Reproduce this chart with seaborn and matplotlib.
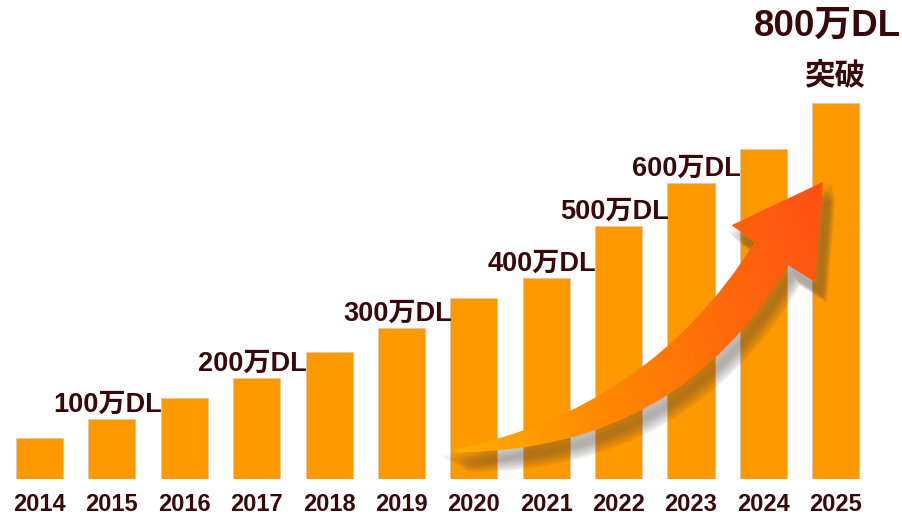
import numpy as np
import pandas as pd
import matplotlib
matplotlib.use("Agg")
import matplotlib.pyplot as plt
import seaborn as sns
from matplotlib.path import Path
from matplotlib.patches import PathPatch
from matplotlib.colors import LinearSegmentedColormap
import matplotlib.transforms as mtransforms

# ---- data ----
years = ["2014", "2015", "2016", "2017", "2018", "2019",
         "2020", "2021", "2022", "2023", "2024", "2025"]
downloads = [87, 128, 172, 215, 270, 321, 385, 428, 538, 630, 702, 800]
milestone_years = ["2015", "2017", "2019", "2021", "2022", "2023"]
milestone_labels = ["100万DL", "200万DL", "300万DL", "400万DL", "500万DL", "600万DL"]
final_label = "800万DL"
final_sub = "突破"

df = pd.DataFrame({"year": years, "dl": downloads})

sns.set_theme(style="white")
FAM = ["Liberation Sans", "Noto Sans CJK JP", "DejaVu Sans"]
plt.rcParams["font.family"] = FAM
TXT = "#3a0808"
BAR = "#FF9900"

fig = plt.figure(figsize=(9.02, 5.15), dpi=100)
ax = fig.add_axes([0.0, 36 / 515, 876 / 902, 470 / 515])

sns.barplot(data=df, x="year", y="dl", color=BAR, saturation=1, width=0.65,
            edgecolor="#d8c8b0", linewidth=0.6, ax=ax, zorder=2)

ax.set_xlim(-0.545, 11.555)
ax.set_ylim(0, 1000)
ax.set_xlabel("")
ax.set_ylabel("")
ax.set_yticks([])
for s in ax.spines.values():
    s.set_visible(False)
ax.tick_params(axis="x", length=0, pad=10)
for lab in ax.get_xticklabels():
    lab.set_fontsize(17)
    lab.set_fontweight("bold")
    lab.set_color(TXT)
    lab.set_family(FAM)

# milestone labels
for y, t in zip(milestone_years, milestone_labels):
    i = years.index(y)
    ax.annotate(t, (i, downloads[i]), xytext=(-3, 1), textcoords="offset points",
                ha="center", va="bottom", fontsize=19.5, fontweight="bold",
                color=TXT, family=FAM, zorder=6)

i = years.index("2025")
ax.annotate(final_sub, (i, downloads[i]), xytext=(-1, 8), textcoords="offset points",
            ha="center", va="bottom", fontsize=22, fontweight="bold",
            color=TXT, family=FAM, zorder=6)
ax.annotate(final_label, (i, downloads[i]), xytext=(-6, 43), textcoords="offset points",
            ha="center", va="bottom", fontsize=26.5, fontweight="bold",
            color=TXT, family=FAM, zorder=6)

# ---- decorative curved arrow (data coordinates) ----
verts = [
    (5.71, 62),     # tail
    (8.43, 147),    # upper control
    (9.88, 504),    # notch left
    (9.56, 540),    # left barb
    (10.82, 632),   # tip
    (10.71, 419),   # right barb
    (10.34, 455),   # notch right
    (8.85, 62),     # lower control
    (5.81, 57),     # lower start
    (5.71, 62),
]
codes = [Path.MOVETO, Path.CURVE3, Path.CURVE3, Path.LINETO, Path.LINETO,
         Path.LINETO, Path.LINETO, Path.CURVE3, Path.CURVE3, Path.CLOSEPOLY]
apath = Path(verts, codes)

# shadow
for k in range(10):
    dx = (3 + k * 0.6) / 72
    dy = -(5 + k * 1.0) / 72
    tr = ax.transData + mtransforms.ScaledTranslation(dx, dy, fig.dpi_scale_trans)
    sh = PathPatch(apath, facecolor="#5a4a40", edgecolor="#5a4a40",
                   linewidth=6 - k * 0.5, alpha=0.045, transform=tr, zorder=3)
    ax.add_patch(sh)

patch = PathPatch(apath, facecolor="none", edgecolor="none", zorder=4)
ax.add_patch(patch)
cmap = LinearSegmentedColormap.from_list("arr", ["#FFB000", "#FF8A00", "#FF6A0A", "#FF4E14"])
gx = np.linspace(0, 1, 256)
gy = np.linspace(0, 1, 64)
GX, GY = np.meshgrid(gx, gy)
grad = 0.75 * GX + 0.25 * GY
im = ax.imshow(grad, extent=[5.6, 10.9, 50, 640], origin="lower", cmap=cmap,
               aspect="auto", zorder=4, interpolation="bilinear")
im.set_clip_path(patch)
ax.set_xlim(-0.545, 11.555)
ax.set_ylim(0, 1000)

fig.savefig("out.png", dpi=100)
